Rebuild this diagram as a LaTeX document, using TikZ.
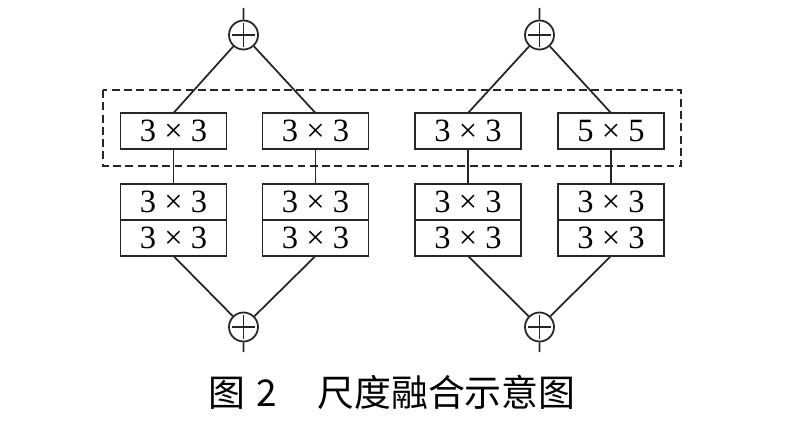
\documentclass[tikz,border=0pt]{standalone}
\usepackage{fontspec}
\setmainfont{Liberation Serif}
\newfontfamily\cjk{Noto Sans CJK SC}
\usepackage{tikz}
\usetikzlibrary{positioning}
\colorlet{line-color}{black!85}
\tikzset{
    convbox/.style = {draw=line-color, line width=1pt, minimum width=2.12cm, minimum height=0.72cm,
        inner sep=0pt, outer sep=0pt, font=\fontsize{18.5}{18.5}\selectfont},
    sumnode/.style = {draw=line-color, circle, line width=1pt, minimum size=0.58cm, inner sep=0pt},
    linkline/.style = {draw=line-color, line width=1pt},
    groupbox/.style = {draw=line-color, line width=1pt, dash pattern=on 4.5pt off 2.5pt}
}

\begin{document}
\begin{tikzpicture}[x=0.02cm, y=-0.02cm]
\useasboundingbox (0,0) rectangle (786,432);
\fill[white] (0,0) rectangle (786,432);

%fusion group
\draw[groupbox] (103,90) rectangle (681,166);

%left branch
\coordinate (inA) at (243.5,8);
\node[sumnode] (topA) at (243.5,35) {};
\node[convbox] (a1) at (173.5,131) {3 × 3};
\node[convbox] (a2) at (315.5,131) {3 × 3};
\node[convbox] (a3) at (173.5,202) {3 × 3};
\node[convbox, below=0pt of a3] (a4) {3 × 3};
\node[convbox] (a5) at (315.5,202) {3 × 3};
\node[convbox, below=0pt of a5] (a6) {3 × 3};
\node[sumnode] (botA) at (243.5,327) {};
\coordinate (outA) at (243.5,352);

%right branch
\coordinate (inB) at (539.5,8);
\node[sumnode] (topB) at (539.5,35) {};
\node[convbox] (b1) at (468,131) {3 × 3};
\node[convbox] (b2) at (611,131) {5 × 5};
\node[convbox] (b3) at (468,202) {3 × 3};
\node[convbox, below=0pt of b3] (b4) {3 × 3};
\node[convbox] (b5) at (611,202) {3 × 3};
\node[convbox, below=0pt of b5] (b6) {3 × 3};
\node[sumnode] (botB) at (539.5,327) {};
\coordinate (outB) at (539.5,352);

%connections
\draw[linkline] (inA) -- (topA) (topA) -- (a1.north) (topA) -- (a2.north);
\draw[linkline] (a1) -- (a3) (a2) -- (a5);
\draw[linkline] (a4.south) -- (botA) (a6.south) -- (botA) (botA) -- (outA);
\draw[linkline] (inB) -- (topB) (topB) -- (b1.north) (topB) -- (b2.north);
\draw[linkline] (b1) -- (b3) (b2) -- (b5);
\draw[linkline] (b4.south) -- (botB) (b6.south) -- (botB) (botB) -- (outB);

%plus signs
\foreach \s in {topA,botA,topB,botB}
    \draw[linkline] ([xshift=2pt]\s.west) -- ([xshift=-2pt]\s.east)
        ([yshift=-2pt]\s.north) -- ([yshift=2pt]\s.south);

\node[font=\cjk\fontsize{21}{21}\selectfont] (caption) at (392,392)
    {图\hspace{0.3em}2\hspace{1.1em}尺度融合示意图};
\end{tikzpicture}
\end{document}
